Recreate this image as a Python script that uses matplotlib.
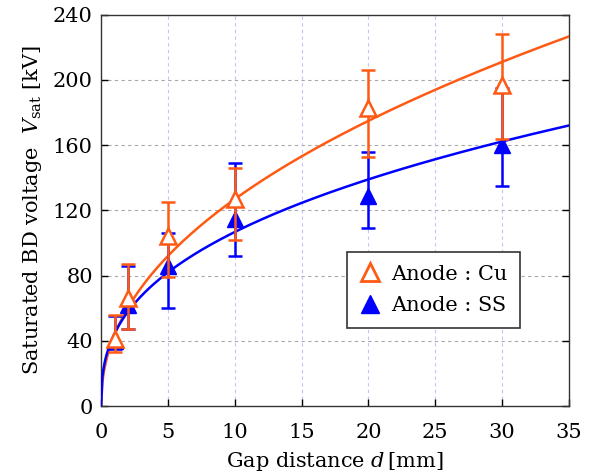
import numpy as np
import matplotlib

matplotlib.use("Agg")
from matplotlib import pyplot as plt
from matplotlib.lines import Line2D

# measured saturated breakdown voltage [kV] vs gap distance [mm]
gap_mm = [1, 2, 5, 10, 20, 30]

cu_volt = [41, 66, 104, 127, 183, 197]
cu_low = [33, 47, 79, 102, 153, 164]
cu_high = [56, 87, 125, 146, 206, 228]

ss_volt = [40, 62, 86, 115, 129, 160]
ss_low = [35, 47, 60, 92, 109, 135]
ss_high = [55, 86, 106, 149, 156, 195]

# power-law fit V = a * d^b (coefficients)
cu_fit = (43.7, 0.463)
ss_fit = (44.4, 0.381)

CU_COLOR = "#ff5a14"
SS_COLOR = "#0000ff"

plt.rcParams["font.family"] = ["DejaVu Serif"]
plt.rcParams["mathtext.fontset"] = "dejavuserif"

fig = plt.figure(figsize=(5.95, 4.76), dpi=100)
ax = fig.add_axes([0.170, 0.147, 0.786, 0.822])

d_line = np.linspace(0, 35, 400)
ax.plot(d_line, cu_fit[0] * d_line ** cu_fit[1], color=CU_COLOR, lw=1.8, zorder=3)
ax.plot(d_line, ss_fit[0] * d_line ** ss_fit[1], color=SS_COLOR, lw=1.8, zorder=3)


def _yerr(values, low, high):
    values = np.asarray(values, dtype=float)
    return [values - np.asarray(low), np.asarray(high) - values]


ax.errorbar(gap_mm, ss_volt, yerr=_yerr(ss_volt, ss_low, ss_high), fmt="^",
            color=SS_COLOR, ms=11, elinewidth=1.8, capsize=5, capthick=1.8, zorder=4)
ax.errorbar(gap_mm, cu_volt, yerr=_yerr(cu_volt, cu_low, cu_high), fmt="^",
            color=CU_COLOR, mfc="white", mec=CU_COLOR, mew=1.8, ms=11,
            elinewidth=1.8, capsize=5, capthick=1.8, zorder=5)

ax.set_xlim(0, 35)
ax.set_ylim(0, 240)
ax.set_xticks(range(0, 36, 5))
ax.set_yticks(range(0, 241, 40))

for y in range(40, 240, 40):
    ax.axhline(y, color="#a8a8a8", lw=0.8, ls=(0, (3, 3)), zorder=1)
for x in range(5, 35, 5):
    ax.axvline(x, color="#c4c4f4", lw=0.8, ls=(0, (3, 3)), zorder=1)

ax.tick_params(direction="in", length=5, width=1, labelsize=15, right=True, top=False)
ax.tick_params(axis="x", pad=12)
ax.tick_params(axis="y", pad=6)
for spine in ax.spines.values():
    spine.set_color("#333333")
    spine.set_linewidth(1)

ax.set_xlabel("Gap distance $d\\,$[mm]", fontsize=15, labelpad=6)
ax.set_ylabel("Saturated BD voltage  $V_{\\mathrm{sat}}$ [kV]", fontsize=15, labelpad=6)

handles = [
    Line2D([], [], ls="none", marker="^", ms=13, mfc="white", mec=CU_COLOR, mew=2),
    Line2D([], [], ls="none", marker="^", ms=13, color=SS_COLOR),
]
leg = ax.legend(handles, ["Anode : Cu", "Anode : SS"], loc="upper left",
                bbox_to_anchor=(0.526, 0.393), fontsize=15, frameon=True, fancybox=False,
                framealpha=1, edgecolor="#333333", handlelength=1.0, handletextpad=0.5,
                borderpad=0.6, labelspacing=0.6, borderaxespad=0)
leg.get_frame().set_linewidth(1.2)

fig.savefig("out.png", dpi=100)
